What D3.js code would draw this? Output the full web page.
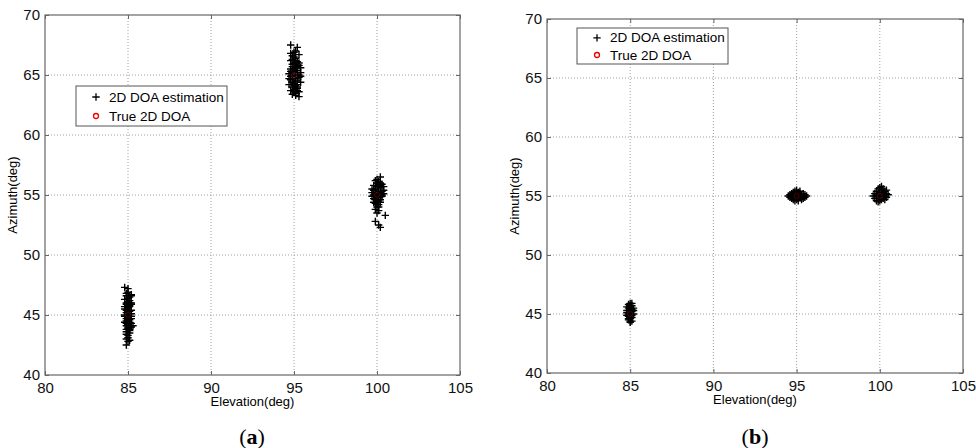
<!DOCTYPE html>
<html><head><meta charset="utf-8">
<script src="https://cdn.jsdelivr.net/npm/d3@7"></script>
<style>body{margin:0;background:#fff}svg{display:block}</style>
</head><body><svg id="c" width="976" height="448"></svg>
<script>
const xTicks=[80,85,90,95,100,105];
const yTicks=[40,45,50,55,60,65,70];
const legendLabels=["2D DOA estimation","True 2D DOA"];
const panelLabels=["a","b"];
const trueA=[[85,45],[95,65],[100,55]];
const trueB=[[85,45],[95,55],[100,55]];
const estA=[
[85.0,47.2],[84.9,46.8],[85.2,46.7],[85.1,46.5],[84.8,46.3],[85.0,46.1],[85.2,46.0],[84.9,45.9],[85.1,45.8],[85.0,45.6],
[84.8,45.5],[85.2,45.4],[85.0,45.3],[84.9,45.2],[85.1,45.1],[85.0,45.0],[84.8,44.9],[85.2,44.9],[85.0,44.8],[84.9,44.7],
[85.1,44.6],[85.0,44.5],[84.8,44.4],[85.2,44.3],[85.0,44.2],[84.9,44.1],[85.1,44.0],[85.0,43.8],[84.9,43.6],[85.1,43.5],
[85.0,43.3],[84.9,43.0],[85.0,42.8],[84.9,42.5],[85.1,45.7],[84.9,46.0],[85.0,46.4],[85.2,44.0],[84.8,45.0],[85.1,44.4],
[85.3,44.1],[85.0,43.9],[84.9,44.5],[85.1,45.3],[85.2,46.6],[84.9,46.6],[85.1,46.2],[85.0,45.8],[85.1,43.8],[84.9,43.4],
[84.8,47.3],[85.0,46.9],[85.1,46.0],[84.9,45.4],[85.2,45.1],[85.0,44.6],[84.9,44.3],[85.1,43.7],[85.0,43.1],[85.2,45.9],
[84.8,45.7],[85.0,44.0],[85.1,42.9],[84.9,43.8],[85.2,44.7],
[95.2,67.3],[95.0,66.9],[95.3,66.7],[94.9,66.6],[95.1,66.4],[94.8,66.2],[95.2,66.1],[95.0,66.0],[95.3,65.8],
[94.9,65.7],[95.1,65.6],[94.8,65.5],[95.2,65.4],[95.0,65.3],[95.4,65.2],[94.7,65.1],[95.1,65.0],[94.9,64.9],[95.3,64.8],
[95.0,64.7],[94.8,64.6],[95.2,64.5],[95.4,64.4],[95.0,64.3],[94.7,64.2],[95.1,64.1],[94.9,64.0],[95.2,63.9],[95.0,63.8],
[94.8,63.7],[95.3,63.6],[95.1,63.5],[94.9,63.4],[95.3,63.2],[94.8,67.5],[95.1,67.0],[95.0,65.9],[94.9,65.2],[95.2,64.2],
[95.1,63.3],[94.8,64.9],[95.4,65.6],[95.0,66.5],[94.8,66.8],[95.1,66.2],[94.9,65.9],[95.2,65.7],[95.0,65.5],[94.8,65.3],
[95.3,65.0],[95.1,64.7],[94.9,64.4],[95.2,64.0],[95.0,63.6],[94.9,66.3],[95.3,66.0],[95.1,65.2],[94.7,64.7],[95.0,64.1],
[95.2,63.7],[95.4,64.9],
[100.2,56.5],[99.9,56.2],[100.1,56.1],[100.3,55.9],[99.8,55.8],[100.0,55.7],[100.2,55.6],[99.9,55.5],[100.4,55.4],[100.1,55.3],
[99.7,55.2],[100.0,55.1],[100.3,55.0],[99.9,54.9],[100.1,54.8],[99.8,54.7],[100.2,54.6],[100.0,54.5],[99.9,54.3],[100.1,54.2],
[100.0,54.0],[99.9,53.8],[100.1,53.7],[100.0,53.5],[100.5,53.3],[99.9,52.8],[100.1,52.5],[100.2,52.3],[100.0,56.3],[100.4,55.7],
[99.7,55.5],[100.2,55.2],[99.8,54.4],[100.3,54.9],[100.1,54.0],[100.0,56.0],[99.9,55.0],[100.2,54.4],[100.1,55.9],[99.8,55.4],
[100.3,55.3],[100.0,54.8],[99.8,55.0],[100.2,55.8],[99.9,54.6],[100.1,54.5],[100.0,54.2],[100.2,56.0],[99.7,54.9],[100.4,55.1]
];
const estB=[
[85.0,45.9],[84.9,45.8],[85.1,45.7],[84.8,45.6],[85.2,45.5],[85.0,45.4],[84.9,45.3],[85.1,45.2],[84.8,45.1],[85.2,45.0],
[85.0,44.9],[84.9,44.8],[85.1,44.7],[85.0,44.6],[84.9,44.5],[85.1,44.4],[85.0,44.3],[84.9,45.0],[85.1,45.4],[85.0,45.1],
[84.9,44.6],[85.1,45.9],[85.0,44.4],[84.8,44.9],[85.2,45.3],[85.0,45.7],[84.9,45.5],[85.1,44.9],[85.0,44.7],[84.8,45.3],
[94.5,55.0],[94.6,55.1],[94.6,54.9],[94.7,55.2],[94.7,54.8],[94.8,55.3],[94.8,54.7],[94.9,55.4],[94.9,54.6],[95.0,55.5],
[95.0,55.0],[95.0,54.7],[95.1,55.3],[95.1,54.8],[95.2,55.2],[95.2,54.9],[95.3,55.1],[95.3,54.8],[95.4,55.0],[95.4,55.2],
[95.5,54.9],[95.5,55.1],[95.6,55.0],[94.9,55.1],[95.1,55.0],[94.8,55.0],[95.2,55.4],[95.0,55.3],[94.9,54.9],[95.3,54.7],
[94.7,55.0],[95.1,54.6],[95.2,55.1],[95.4,54.8],
[99.6,55.0],[99.7,55.2],[99.7,54.8],[99.8,55.4],[99.8,54.6],[99.9,55.6],[99.9,54.5],[100.0,55.7],[100.0,55.0],[100.0,54.6],
[100.1,55.5],[100.1,54.7],[100.2,55.3],[100.2,54.8],[100.3,55.4],[100.3,55.0],[100.4,55.2],[100.4,54.9],[100.5,55.1],[100.2,55.6],
[99.9,55.1],[100.1,55.1],[99.8,55.0],[100.3,54.7],[100.0,55.3],[100.1,55.8],[99.9,54.8],[100.2,55.0],[100.4,55.5]
];
const panels=[
 {x0:45,x1:460,y0:15,y1:375,est:estA,tru:trueA,leg:[76,86,227,126],lab:panelLabels[0],cx:252},
 {x0:547,x1:963,y0:19,y1:373,est:estB,tru:trueB,leg:[577,28,728,64],lab:panelLabels[1],cx:755}
];
const svg=d3.select("#c");
const font="Arial, 'Liberation Sans', sans-serif";
const plus="M-3.7,0H3.7M0,-3.7V3.7";
panels.forEach(p=>{
  const x=d3.scaleLinear().domain([80,105]).range([p.x0,p.x1]);
  const y=d3.scaleLinear().domain([40,70]).range([p.y1,p.y0]);
  const g=svg.append("g");
  g.selectAll(".gx").data(xTicks.slice(1,-1)).join("line")
    .attr("x1",d=>x(d)).attr("x2",d=>x(d)).attr("y1",p.y0).attr("y2",p.y1)
    .attr("stroke","#888").attr("stroke-width",0.8).attr("stroke-dasharray","1,2");
  g.selectAll(".gy").data(yTicks.slice(1,-1)).join("line")
    .attr("y1",d=>y(d)).attr("y2",d=>y(d)).attr("x1",p.x0).attr("x2",p.x1)
    .attr("stroke","#888").attr("stroke-width",0.8).attr("stroke-dasharray","1,2");
  const ax=d3.axisBottom(x).tickValues(xTicks).tickSize(-4).tickPadding(7);
  const ay=d3.axisLeft(y).tickValues(yTicks).tickSize(-4).tickPadding(5);
  const gx=g.append("g").attr("transform",`translate(0,${p.y1})`).call(ax);
  const gy=g.append("g").attr("transform",`translate(${p.x0},0)`).call(ay);
  const gxt=g.append("g").attr("transform",`translate(0,${p.y0})`).call(d3.axisTop(x).tickValues(xTicks).tickSize(-4).tickFormat(""));
  const gyr=g.append("g").attr("transform",`translate(${p.x1},0)`).call(d3.axisRight(y).tickValues(yTicks).tickSize(-4).tickFormat(""));
  [gx,gy,gxt,gyr].forEach(a=>{a.select(".domain").remove();a.selectAll("line").attr("stroke","#666");
    a.selectAll("text").attr("font-family",font).attr("font-size",15).attr("fill","#111");});
  g.append("rect").attr("x",p.x0).attr("y",p.y0).attr("width",p.x1-p.x0).attr("height",p.y1-p.y0)
    .attr("fill","none").attr("stroke","#666").attr("stroke-width",1.2);
  g.selectAll(".e").data(p.est).join("path").attr("d",plus)
    .attr("transform",d=>`translate(${x(d[0])},${y(d[1])})`)
    .attr("stroke","#000").attr("stroke-width",1.4).attr("fill","none");
  g.selectAll(".t").data(p.tru).join("circle").attr("cx",d=>x(d[0])).attr("cy",d=>y(d[1])).attr("r",2.5)
    .attr("stroke","#e00").attr("stroke-width",1).attr("fill","none").attr("opacity",0.3);
  g.append("text").attr("x",(p.x0+p.x1)/2).attr("y",p.y1+31).attr("text-anchor","middle")
    .attr("font-family",font).attr("font-size",13).text("Elevation(deg)");
  g.append("text").attr("transform",`translate(${p.x0-28},${(p.y0+p.y1)/2}) rotate(-90)`).attr("text-anchor","middle")
    .attr("font-family",font).attr("font-size",13).text("Azimuth(deg)");
  const [lx0,ly0,lx1,ly1]=p.leg;
  g.append("rect").attr("x",lx0).attr("y",ly0).attr("width",lx1-lx0).attr("height",ly1-ly0)
    .attr("fill","#fff").attr("stroke","#555").attr("stroke-width",1);
  const rh=(ly1-ly0)/2;
  g.append("path").attr("d",plus).attr("transform",`translate(${lx0+20},${ly0+rh*0.55})`).attr("stroke","#000").attr("stroke-width",1.3);
  g.append("circle").attr("cx",lx0+20).attr("cy",ly0+rh*1.5).attr("r",2.5).attr("stroke","#e00").attr("stroke-width",1.3).attr("fill","none");
  legendLabels.forEach((t,i)=>{
    g.append("text").attr("x",lx0+33).attr("y",ly0+rh*(i===0?0.55:1.5)+4.5).attr("font-family",font).attr("font-size",13.5).text(t);
  });
  const pl=g.append("text").attr("x",p.cx).attr("y",444).attr("text-anchor","middle")
    .attr("font-family","'Liberation Serif','DejaVu Serif',serif").attr("font-size",22);
  pl.append("tspan").text("(");
  pl.append("tspan").attr("font-weight","bold").text(p.lab);
  pl.append("tspan").text(")");
});
</script></body></html>
